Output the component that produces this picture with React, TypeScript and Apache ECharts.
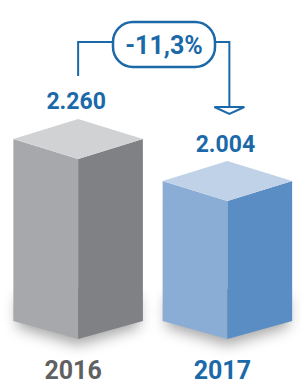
import React, { useEffect, useRef } from "react";
import * as echarts from "echarts";

const categories = ["2016", "2017"];
const values = [2260, 2004];
const axisMin = 1163;
const axisMax = 3229;

const BLUE = "#1b69a8";
const faceColors = [
  { left: "#a7a8ab", right: "#808185", top: "#d1d2d4" },
  { left: "#8aadd6", right: "#5a8dc3", top: "#c0d2e8" },
];

function fmt(v: number): string {
  const s = String(Math.round(v));
  return s.replace(/\B(?=(\d{3})+(?!\d))/g, ".");
}

export default function App() {
  const ref = useRef<HTMLDivElement>(null);
  useEffect(() => {
    if (!ref.current) return;
    const chart = echarts.init(ref.current, null, { renderer: "svg" });
    const FONT = "Roboto, 'Open Sans', sans-serif";
    chart.setOption({
      animation: false,
      grid: { left: 3.5, width: 314, top: 0, bottom: 44, containLabel: false },
      xAxis: {
        type: "category",
        data: categories,
        axisLine: { show: false },
        axisTick: { show: false },
        axisLabel: {
          margin: 20,
          fontSize: 25,
          lineHeight: 22,
          fontWeight: "bold",
          fontFamily: FONT,
          padding: [0, 10, 0, 0],
          color: (_v: any, i: number) => (i === 0 ? "#5f6061" : BLUE),
        },
      },
      yAxis: { type: "value", min: axisMin, max: axisMax, show: false },
      series: [
        {
          type: "custom",
          data: values.map((v, i) => [i, v]),
          renderItem: (params: any, api: any) => {
            const idx = params.dataIndex;
            const [cx, yTop] = api.coord([api.value(0), api.value(1)]);
            const yBot = api.coord([api.value(0), axisMin])[1];
            const w = api.size([1, 0])[0] * 0.434;
            const d1 = 20;
            const c = faceColors[idx];
            return {
              type: "group",
              children: [
                {
                  type: "polygon",
                  shape: {
                    points: [
                      [cx - w + 4, yBot - d1 - 30],
                      [cx + w - 4, yBot - d1 - 30],
                      [cx + w - 4, yBot - d1],
                      [cx, yBot - 2],
                      [cx - w + 4, yBot - d1],
                    ],
                  },
                  style: {
                    fill: "#999",
                    shadowBlur: 14,
                    shadowColor: "rgba(0,0,0,0.35)",
                    shadowOffsetY: 8,
                  },
                },
                {
                  type: "polygon",
                  shape: {
                    points: [
                      [cx - w, yTop - d1],
                      [cx, yTop],
                      [cx, yBot],
                      [cx - w, yBot - 18],
                    ],
                  },
                  style: { fill: c.left },
                },
                {
                  type: "polygon",
                  shape: {
                    points: [
                      [cx, yTop],
                      [cx + w, yTop - d1],
                      [cx + w, yBot - 18],
                      [cx, yBot],
                    ],
                  },
                  style: { fill: c.right },
                },
                {
                  type: "polygon",
                  shape: {
                    points: [
                      [cx - w, yTop - d1],
                      [cx, yTop - 2 * d1],
                      [cx + w, yTop - d1],
                      [cx, yTop],
                    ],
                  },
                  style: { fill: c.top },
                },
                {
                  type: "text",
                  style: {
                    text: fmt(values[idx]),
                    x: cx - 2,
                    y: yTop - 57,
                    align: "center",
                    verticalAlign: "middle",
                    fontSize: 23,
                    fontWeight: "bold",
                    fontFamily: FONT,
                    fill: BLUE,
                  },
                },
              ],
            };
          },
        },
      ],
    });

    const p0 = chart.convertToPixel({ xAxisIndex: 0, yAxisIndex: 0 }, [0, values[0]]) as number[];
    const p1 = chart.convertToPixel({ xAxisIndex: 0, yAxisIndex: 0 }, [1, values[1]]) as number[];
    const pct = ((values[1] - values[0]) / values[0]) * 100;
    const pctText = (pct < 0 ? "-" : "+") + Math.abs(pct).toFixed(1).replace(".", ",") + "%";
    const lx = p0[0];
    const rx = p1[0] + 2;
    const boxL = 113, boxR = 215, boxT = 22, boxB = 67, midY = 42;
    const lineStyle = { stroke: BLUE, lineWidth: 2, fill: "none" };
    chart.setOption({
      graphic: [
        {
          type: "polyline",
          shape: { points: [[lx, 76], [lx, midY], [boxL, midY]] },
          style: lineStyle,
        },
        {
          type: "polyline",
          shape: { points: [[boxR, midY], [rx, midY], [rx, 107]] },
          style: lineStyle,
        },
        {
          type: "polygon",
          shape: { points: [[rx - 15, 107], [rx + 15, 107], [rx, 114]] },
          style: { stroke: BLUE, lineWidth: 2, fill: "#fff" },
        },
        {
          type: "rect",
          shape: { x: boxL, y: boxT, width: boxR - boxL, height: boxB - boxT, r: 20 },
          style: { stroke: BLUE, lineWidth: 2.5, fill: "#fff" },
        },
        {
          type: "text",
          style: {
            text: pctText,
            x: (boxL + boxR) / 2,
            y: (boxT + boxB) / 2 + 1,
            align: "center",
            verticalAlign: "middle",
            fontSize: 25,
            fontWeight: "bold",
            fontFamily: FONT,
            fill: BLUE,
          },
        },
      ],
    });
    return () => chart.dispose();
  }, []);
  return <div ref={ref} style={{ width: 302, height: 383, position: "absolute", left: 0, top: 0 }} />;
}
